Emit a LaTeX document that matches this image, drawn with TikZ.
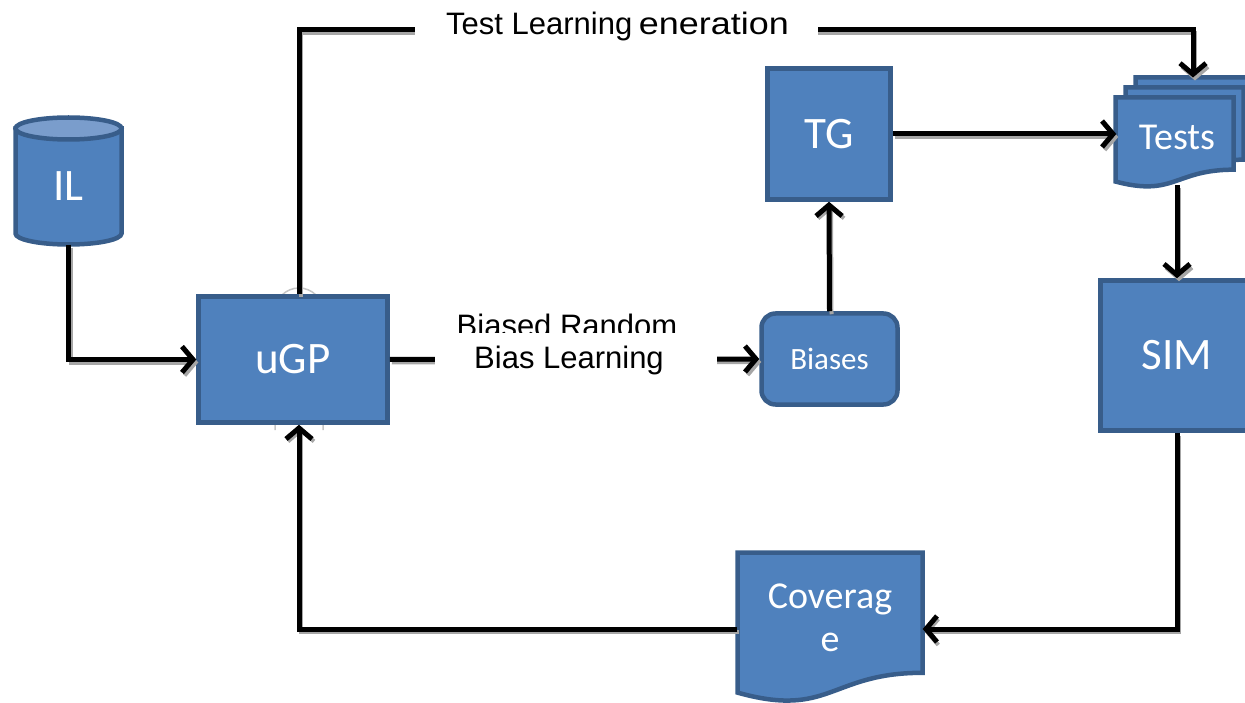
\documentclass[tikz,border=0pt]{standalone}
\usepackage{fontspec}
\usepackage{graphicx}
\usetikzlibrary{arrows.meta}

\newfontfamily\boxfont{Carlito}
\newfontfamily\lblfont{Liberation Sans}

\definecolor{boxfill}{HTML}{4F81BD}
\definecolor{boxline}{HTML}{385D8A}
\definecolor{captop}{HTML}{7A9DCC}

\newcommand\bigbox{\boxfont\fontsize{45}{52}\selectfont}
\newcommand\midbox{\boxfont\fontsize{38}{43}\selectfont}
\newcommand\smallbox{\boxfont\fontsize{31}{36}\selectfont}

% flowchart "document" outline: left, top, width, height
\newcommand\docshape[4]{%
  \filldraw[blk] (#1,#2) -- ({#1+#3},#2) -- ({#1+#3},{#2+0.802*#4})
    .. controls ({#1+0.5*#3},{#2+0.802*#4}) and ({#1+0.5*#3},{#2+1.107*#4}) ..
    (#1,{#2+0.934*#4}) -- cycle;}

\tikzset{
  blk/.style={draw=boxline, fill=boxfill, line width=4.5pt},
  boxnode/.style={blk, text=white, font=\bigbox, inner sep=0pt},
  txt/.style={text=white, inner sep=0pt},
  lbl/.style={font=\lblfont\fontsize{31}{36}\selectfont, text=black, inner sep=0pt},
  link/.style={line width=5pt, black,
    -{Straight Barb[length=11pt,width=26pt]},
    preaction={draw=black!35, line width=4pt,
      transform canvas={xshift=2pt,yshift=-3pt}}},
}

\begin{document}
\begin{tikzpicture}[x=1pt,y=-1pt]
\useasboundingbox (0,0) rectangle (1245,703);
\clip (0,0) rectangle (1245,703);

% faint arch behind the uGP block
\draw[gray!45, line width=1.5pt] (275,430) -- (275,312)
  .. controls (275,298.7) and (285.7,288) .. (299,288)
  .. controls (312.3,288) and (323,298.7) .. (323,312) -- (323,430);

% IL cylinder
\filldraw[blk] (15.5,128.5) -- (15.5,233.5)
  .. controls (15.5,239.6) and (39.2,244.5) .. (68.5,244.5)
  .. controls (97.8,244.5) and (121.5,239.6) .. (121.5,233.5)
  -- (121.5,128.5) -- cycle;
\filldraw[blk, fill=captop] (68.5,128.5) ellipse [x radius=53pt, y radius=11pt];
\node[txt, font=\bigbox, minimum width=106, minimum height=116] (il) at (68.5,186.5) {IL};

% blocks
\node[boxnode, minimum width=189, minimum height=126] (ugp) at (293,359.5) {uGP};
\node[boxnode, minimum width=123, minimum height=131] (tg) at (829,134) {TG};
\node[boxnode, font=\smallbox, rounded corners=14pt, minimum width=136, minimum height=91] (biases) at (829.5,359) {Biases};
\node[boxnode, minimum width=153, minimum height=150] (sim) at (1177,355.5) {SIM};

% Tests: stacked documents
\docshape{1135.5}{77.5}{118}{90}
\docshape{1125.5}{87.5}{118}{90}
\docshape{1115.5}{97.5}{118}{90}
\node[txt, font=\midbox, minimum width=121, minimum height=96] (tests) at (1177,137) {Tests};

% Coverage document
\docshape{737.5}{552.5}{185}{150}
\node[txt, font=\midbox, align=center, minimum width=185] (cov) at (830,618) {Coverag\\e};

% routing points
\coordinate (topleft) at (299,30);
\coordinate (topright) at (1193,30);
\coordinate (teststop) at (1193,77.5);
\coordinate (botright) at (1177,629);
\coordinate (botleft) at (299,629);

% connectors
\draw[link] (il.south) |- (ugp.west);
\draw[link] (ugp.east) -- (biases.west);
\draw[link] (biases.north) -- (tg.south);
\draw[link] (tg.east) -- (tg.east -| tests.west);
\draw[link] (tests.south) -- (sim.north);
\draw[link] (sim.south) -- (botright) -- (botright -| cov.east);
\draw[link] (botleft -| cov.west) -- (botleft) -- (botleft |- ugp.south);
\draw[link] (topleft |- ugp.north) -- (topleft) -- (topright) -- (teststop);

% top label
\node[fill=white, minimum width=403, minimum height=40, inner sep=0pt] (genbg) at (616.5,30) {};
\node[lbl, anchor=base west] (learn) at (446,35) {Test Learning};
\node[lbl, anchor=base east] (gentxt) at (789,35) {\scalebox{1.16}[1]{eneration}};

% middle label
\node[lbl, anchor=base] (biased) at (567,337) {Biased Random};
\node[fill=white, minimum width=282, minimum height=52, inner sep=0pt] (biasbg) at (576,359) {};
\node[lbl, anchor=base] (biaslbl) at (569,368) {Bias Learning};
\end{tikzpicture}
\end{document}
